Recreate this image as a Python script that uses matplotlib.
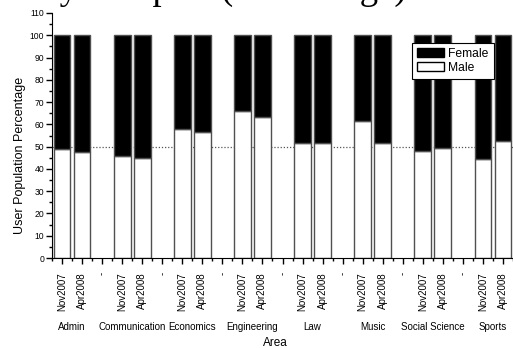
import matplotlib
matplotlib.use("Agg")
import matplotlib.pyplot as plt
import matplotlib.transforms as mtransforms
from matplotlib.patches import Patch

plt.rcParams['font.family'] = ['Liberation Sans', 'DejaVu Sans']

# share of male users per area, two surveys each
areas = ["Admin", "Communication", "Economics", "Engineering",
         "Law", "Music", "Social Science", "Sports"]
surveys = ["Nov2007", "Apr2008"]
male_nov = [49.0, 46.0, 57.8, 66.2, 51.5, 61.5, 48.0, 44.5]
male_apr = [47.5, 45.0, 56.5, 63.3, 51.5, 51.5, 49.5, 52.5]
parity = 50

# three slots per area (two surveys + a spacer), spacer dropped after the last area
pos, male, labels = [], [], []
for i, a in enumerate(areas):
    pos += [3 * i, 3 * i + 1]
    male += [male_nov[i], male_apr[i]]
    labels += surveys
    if i < len(areas) - 1:
        labels.append("-")
female = [100 - m for m in male]

fig = plt.figure(figsize=(5.13, 3.48), dpi=100)
ax = fig.add_axes([52 / 513, 90 / 348, 461 / 513, 245 / 348])

ax.axhline(parity, ls=(0, (1, 1.5)), color="#555555", lw=0.9, zorder=0.5)
ax.bar(pos, male, width=0.84, color="white", edgecolor="#505050", lw=1, zorder=2)
ax.bar(pos, female, bottom=male, width=0.84, color="black",
       edgecolor="#505050", lw=1, zorder=2)

ax.set_xlim(-0.5, 22.38)
ax.set_ylim(0, 110)
for s in ["top", "right"]:
    ax.spines[s].set_visible(False)

ax.set_xticks(range(len(labels)))
ax.set_xticklabels(labels, rotation=90, fontsize=7)
ax.set_xticks([p + 0.5 for p in range(-1, len(labels))], minor=True)
ax.set_yticks(range(0, 111, 10))
ax.set_yticks(range(5, 111, 10), minor=True)
ax.tick_params(axis="y", labelsize=6.2, length=4, width=1, pad=1.5)
ax.tick_params(axis="x", length=4, width=1, pad=6)
ax.tick_params(which="minor", length=2.5, width=1)

# area names under each pair of bars
trans = mtransforms.blended_transform_factory(ax.transData, ax.transAxes)
for i, a in enumerate(areas):
    ax.text(3 * i + 0.5, -0.282, a, transform=trans, ha="center",
            va="center", fontsize=7)

fig.text(275 / 513, 1 - 343 / 348, "Area", ha="center", va="center", fontsize=8.5)
fig.text(20 / 513, 1 - 155 / 348, "User Population Percentage", rotation=90,
         ha="center", va="center", fontsize=9)
# title sits mostly above the top edge
fig.text(-26 / 513, 1 + 1 / 348, "Survey Samples (Percentage)", ha="left",
         va="baseline", fontsize=26.5, family="Liberation Serif")

handles = [Patch(facecolor="black", edgecolor="black", label="Female"),
           Patch(facecolor="white", edgecolor="black", label="Male")]
ax.legend(handles=handles, loc="upper left",
          bbox_to_anchor=(412 / 513, 1 - 42.7 / 348),
          bbox_transform=fig.transFigure, borderaxespad=0, fontsize=8.7,
          fancybox=False, framealpha=1, edgecolor="black",
          handlelength=2.2, handleheight=0.75, handletextpad=0.35,
          borderpad=0.45, labelspacing=0.12)
ax.get_legend().get_frame().set_linewidth(0.8)

fig.savefig("out.png", dpi=100)
